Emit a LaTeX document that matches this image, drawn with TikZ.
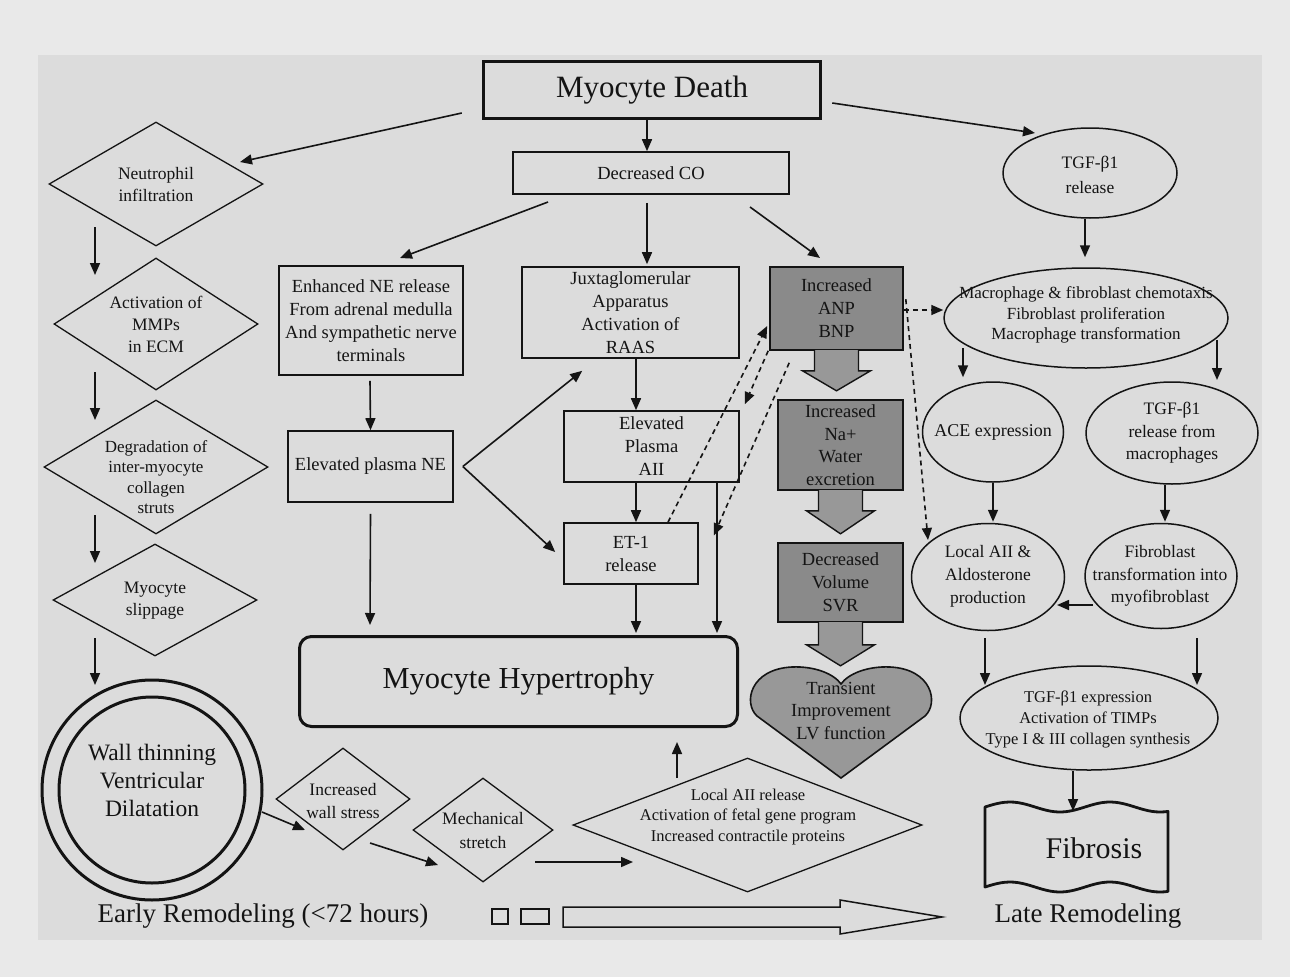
\documentclass[tikz,border=0pt]{standalone}
\usepackage{fontspec}
\setmainfont{Liberation Serif}
\usetikzlibrary{shapes.geometric,arrows.meta,calc}
\definecolor{bgout}{RGB}{233,233,233}
\definecolor{bgin}{RGB}{220,220,220}
\definecolor{ink}{RGB}{20,20,20}
\definecolor{boxgray}{RGB}{138,138,138}
\definecolor{arrgray}{RGB}{152,152,152}
\newcommand\myfs[2]{\fontsize{#1pt}{#2pt}\selectfont}
\tikzset{
 rbox/.style={draw=ink, line width=1.6pt, inner sep=0pt, align=center, text=ink, font=\myfs{18.5}{23}},
 gbox/.style={rbox, fill=boxgray},
 dshape/.style={diamond, draw=ink, line width=1.3pt, inner sep=0pt},
 eshape/.style={ellipse, draw=ink, line width=1.5pt, inner sep=0pt},
 lbl/.style={align=center, text=ink, inner sep=0pt, font=\myfs{17.5}{22}},
 arr/.style={draw=ink, line width=1.6pt, -{Triangle[length=12pt,width=10pt]}},
 darr/.style={arr, dash pattern=on 5pt off 4pt},
 blk/.style={draw=ink, line width=1.4pt, fill=arrgray, line join=miter},
}
\begin{document}
\begin{tikzpicture}[x=1pt,y=-1pt]
\useasboundingbox (0,0) rectangle (1290,977);
\fill[bgout] (0,0) rectangle (1290,977);
\fill[bgin] (38,55) rectangle (1262,940);

% top
\node[rbox, line width=3.5pt, minimum width=337, minimum height=57, font=\myfs{31}{36}] (death) at (652,90) {Myocyte Death};
\node[rbox, minimum width=276, minimum height=42] (co) at (651,173) {Decreased CO};
\node[eshape, minimum width=174, minimum height=90] (tgf) at (1090,173) {};
\node[lbl, font=\myfs{17.5}{25}] (tgft) at (1090,175) {TGF-β1\\release};

% left column
\node[dshape, minimum width=214, minimum height=124] (neut) at (156,184) {};
\node[lbl] (neutt) at (156,185) {Neutrophil\\infiltration};
\node[dshape, minimum width=204, minimum height=132] (mmp) at (156,324) {};
\node[lbl] (mmpt) at (156,324) {Activation of\\MMPs\\in ECM};
\node[dshape, minimum width=224, minimum height=134] (deg) at (156,467) {};
\node[lbl, font=\myfs{17}{20.5}] (degt) at (156,477) {Degradation of\\inter-myocyte\\collagen\\struts};
\node[dshape, minimum width=204, minimum height=112] (slip) at (155,600) {};
\node[lbl] (slipt) at (155,601) {Myocyte\\slippage};
\node[circle, draw=ink, line width=3pt, minimum size=220, inner sep=0pt] (wallo) at (152,790) {};
\node[circle, draw=ink, line width=3pt, minimum size=186, inner sep=0pt] (wall) at (152,790) {};
\node[lbl, font=\myfs{23.5}{28}] (wallt) at (152,780) {Wall thinning\\Ventricular\\Dilatation};

% middle
\node[rbox, minimum width=184, minimum height=109] (ne) at (371,320.5) {Enhanced NE release\\From adrenal medulla\\And sympathetic nerve\\terminals};
\node[rbox, minimum width=165, minimum height=71] (pne) at (370.5,466.5) {Elevated plasma NE};
\node[rbox, minimum width=217, minimum height=91] (jga) at (630.5,312.5) {Juxtaglomerular\\Apparatus\\Activation of\\RAAS};
\node[rbox, minimum width=175, minimum height=71] (aii) at (651.5,446.5) {Elevated\\Plasma\\AII};
\node[rbox, minimum width=134, minimum height=61] (et) at (631,553.5) {ET-1\\release};
\node[rbox, line width=3pt, rounded corners=12pt, minimum width=438, minimum height=90, font=\myfs{30.5}{34}] (hyp) at (518.5,681.5) {Myocyte Hypertrophy};

% gray column
\node[gbox, minimum width=133, minimum height=83] (anp) at (836.5,308.5) {Increased\\ANP\\BNP};
\node[gbox, minimum width=125, minimum height=90, font=\myfs{18.5}{22.5}] (na) at (840.5,445) {Increased\\Na+\\Water\\excretion};
\node[gbox, minimum width=125, minimum height=79] (vol) at (840.5,582.5) {Decreased\\Volume\\SVR};
\path[draw=ink, line width=1.6pt, fill=arrgray] (841,778) -- (757,716) .. controls (743,703) and (750,669) .. (792,667) .. controls (815,666) and (834,674) .. (841,684) .. controls (848,674) and (867,666) .. (890,667) .. controls (932,669) and (939,703) .. (925,716) -- cycle;
\node[lbl, font=\myfs{18.5}{22.5}] (heart) at (841,711) {Transient\\Improvement\\LV function};
\path[blk] ($(anp.south)+(-22,-0.8)$) -- ++(0,20.8) -- ++(-12,0) -- ($(anp.south)+(0,40)$) -- ($(anp.south)+(34,20)$) -- ++(-12,0) -- ++(0,-20.8);
\path[blk] ($(na.south)+(-22,-0.8)$) -- ++(0,20.8) -- ++(-12,0) -- ($(na.south)+(0,43)$) -- ($(na.south)+(34,20)$) -- ++(-12,0) -- ++(0,-20.8);
\path[blk] ($(vol.south)+(-22,-0.8)$) -- ++(0,22.8) -- ++(-12,0) -- ($(vol.south)+(0,43)$) -- ($(vol.south)+(34,22)$) -- ++(-12,0) -- ++(0,-22.8);

% right
\node[eshape, minimum width=284, minimum height=100] (mac) at (1086,318) {};
\node[lbl, font=\myfs{17}{20.5}] (mact) at (1086,315) {Macrophage \& fibroblast chemotaxis\\Fibroblast proliferation\\Macrophage transformation};
\node[eshape, minimum width=141, minimum height=100] (ace) at (993,432) {};
\node[lbl, font=\myfs{18}{23}] (acet) at (993,432) {ACE expression};
\node[eshape, minimum width=172, minimum height=102] (tgfm) at (1172,433) {};
\node[lbl, font=\myfs{17.5}{22.5}] (tgfmt) at (1172,433) {TGF-β1\\release from\\macrophages};
\node[eshape, minimum width=153, minimum height=107] (lai) at (988,577) {};
\node[lbl, font=\myfs{17.5}{23}] (lait) at (988,576) {Local AII \&\\Aldosterone\\production};
\node[eshape, minimum width=152, minimum height=105] (fibro) at (1161,576) {};
\node[lbl, font=\myfs{17.5}{22.5}] (fibrot) at (1160,576) {Fibroblast\\transformation into\\myofibroblast};
\node[eshape, minimum width=258, minimum height=104] (tgfe) at (1089,718) {};
\node[lbl, font=\myfs{16.5}{21}] (tgfet) at (1088,719) {TGF-β1 expression\\Activation of TIMPs\\Type I \& III collagen synthesis};
\draw[draw=ink, line width=2.8pt, line join=round] plot[domain=0:183, samples=46, smooth] ({\x+985},{807-5*cos((\x-25)*3.6)}) -- plot[domain=183:0, samples=46, smooth] ({\x+985},{887-5*cos((\x-25)*3.6)}) -- cycle;
\node[lbl, font=\myfs{30}{34}] (fib) at (1094,848) {Fibrosis};

% bottom
\node[dshape, minimum width=134, minimum height=102] (ws) at (343,799) {};
\node[lbl, font=\myfs{17.5}{23}] (wst) at (343,801) {Increased\\wall stress};
\node[dshape, minimum width=140, minimum height=104] (ms) at (483,830) {};
\node[lbl, font=\myfs{17.5}{24}] (mst) at (483,831) {Mechanical\\stretch};
\node[dshape, minimum width=349, minimum height=134] (lar) at (747.5,825) {};
\node[lbl, font=\myfs{16.5}{20.5}] (lart) at (748,817) {Local AII release\\Activation of fetal gene program\\Increased contractile proteins};
\node[lbl, font=\myfs{27}{30}] (early) at (263,916) {Early Remodeling (<72 hours)};
\node[lbl, font=\myfs{27}{30}] (late) at (1088,916) {Late Remodeling};
\draw[ink, line width=1.5pt] (492,909) rectangle (508,924);
\draw[ink, line width=1.5pt] (521,909) rectangle (549,924);
\draw[ink, line width=1.5pt] (563,907) -- (840,907) -- (840,900) -- (942,917) -- (840,934) -- (840,927) -- (563,927) -- cycle;

% connectors
\draw[arr] ($(death.south)+(-5,0)$) -- ($(co.north)+(-4,0)$);
\draw[arr] ($(death.west)+(-20,23)$) -- ($(neut.center)+(84,-22)$);
\draw[arr] ($(death.east)+(10,13)$) -- ($(tgf.center)+(-55,-40)$);
\draw[arr] ($(co.center)+(-103,29)$) -- ($(ne.center)+(29,-62.5)$);
\draw[arr] ($(co.south)+(-4,8)$) -- ($(jga.north)+(16.5,-2)$);
\draw[arr] ($(co.center)+(99,34)$) -- ($(anp.center)+(-16.5,-50.5)$);
\draw[arr] ($(tgf.south)+(-5,0)$) -- ($(mac.north)+(-1,-10)$);
\draw[arr] ($(neut.center)+(-61,43)$) -- ($(mmp.center)+(-61,-49)$);
\draw[arr] ($(mmp.center)+(-61,48)$) -- ($(deg.center)+(-61,-47)$);
\draw[arr] ($(deg.center)+(-61,48)$) -- ($(slip.center)+(-60,-37)$);
\draw[arr] ($(slip.center)+(-60,38)$) -- ($(wallo.center)+(-57,-105)$);
\draw[arr] ($(ne.south)+(-1,5)$) -- (pne.north);
\draw[arr] ($(pne.south)+(0,11)$) -- ($(hyp.north)+(-148.5,-10)$);
\draw[arr] ($(pne.east)+(9,0)$) -- ($(jga.south west)+(61,12)$);
\draw[arr] ($(pne.east)+(9,0)$) -- ($(et.west)+(-8,-1.5)$);
\draw[arr] ($(jga.south)+(5.5,0)$) -- ($(aii.north)+(-15.5,0)$);
\draw[arr] ($(aii.south)+(-15.5,0)$) -- ($(et.north)+(5,0)$);
\draw[arr] ($(et.south)+(5,0)$) -- ($(hyp.north)+(117.5,-2)$);
\draw[arr] ($(aii.south)+(65.5,0)$) -- ($(hyp.north)+(198.5,-2)$);
\draw[darr] ($(et.north)+(37,0)$) -- ($(anp.west)+(-2,17.5)$);
\draw[darr] ($(anp.south west)+(-1,0)$) -- ($(aii.north east)+(5,-6)$);
\draw[darr] ($(anp.south west)+(20,12)$) -- ($(et.east)+(15,-18)$);
\draw[darr] ($(anp.east)+(0,1.5)$) -- ($(mac.west)+(0,-8)$);
\draw[darr] ($(anp.north east)+(2,33)$) -- ($(lai.center)+(-60,-37)$);
\draw[arr] ($(mac.center)+(-123,30)$) -- ($(ace.north)+(-30,-4)$);
\draw[arr] ($(mac.center)+(131,22)$) -- ($(tgfm.center)+(45,-53)$);
\draw[arr] (ace.south) -- ($(lai.north)+(5,-1)$);
\draw[arr] ($(tgfm.south)+(-7,0)$) -- ($(fibro.north)+(4,-1)$);
\draw[arr] ($(fibro.center)+(-68,29)$) -- ($(lai.center)+(69,28)$);
\draw[arr] ($(lai.south)+(-3,7)$) -- ($(tgfe.center)+(-104,-33)$);
\draw[arr] ($(fibro.south)+(36,9)$) -- ($(tgfe.center)+(108,-33)$);
\draw[arr] ($(tgfe.south)+(-16,0)$) -- ($(fib.center)+(-21,-37)$);
\draw[arr] ($(wallo.center)+(110,22)$) -- ($(ws.center)+(-38,31)$);
\draw[arr] ($(ws.center)+(27,44)$) -- ($(ms.center)+(-45,35)$);
\draw[arr] ($(ms.center)+(52,32)$) -- ($(lar.center)+(-114.5,37)$);
\draw[arr] ($(lar.center)+(-70.5,-47)$) -- ($(hyp.south)+(158.5,14)$);
\end{tikzpicture}
\end{document}
